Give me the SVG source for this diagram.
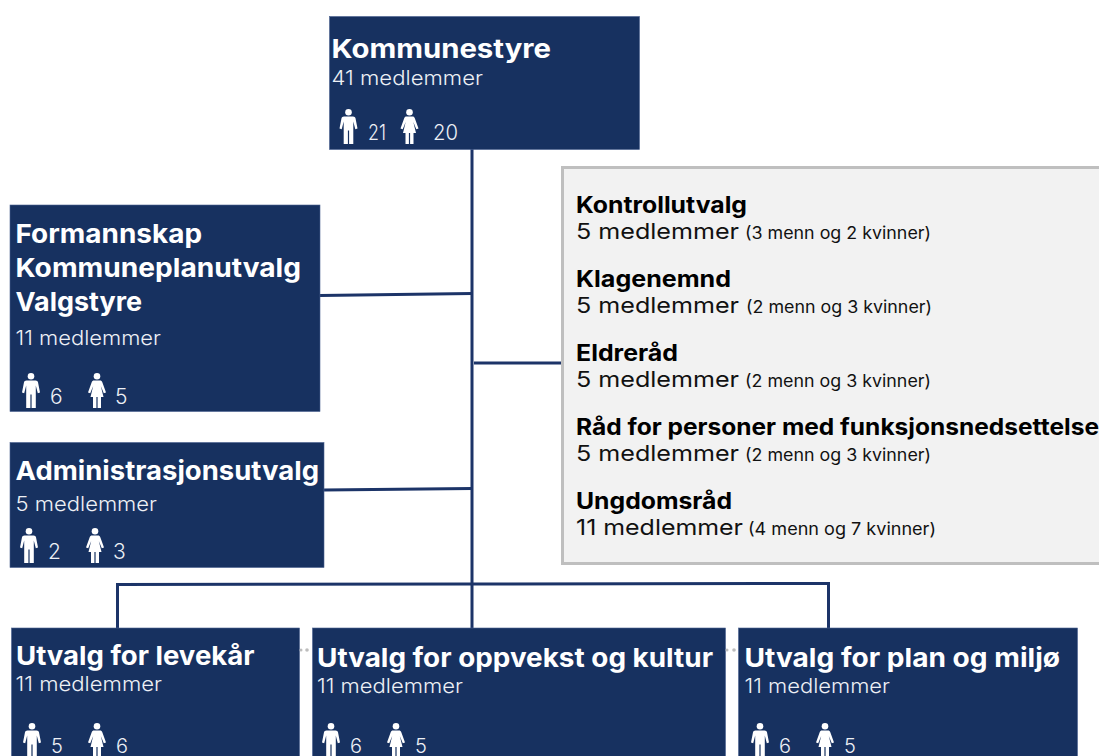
<svg xmlns="http://www.w3.org/2000/svg" width="1099" height="756" viewBox="0 0 1099 756">
<style>
text{font-family:"Inter","Noto Sans","Liberation Sans",sans-serif}
.box{fill:#173160;stroke:#4a6190;stroke-width:.6}
.t{fill:#fff;font-weight:700;font-size:26px}
.s{fill:#edf0f5;font-weight:300;font-size:20px}
.n{fill:#edf0f5;font-weight:300;font-size:21px}
.c{fill:none;stroke:#1c3468;stroke-width:3}
.h{fill:#000;font-weight:700;font-size:22.500px}
.m{fill:#111;font-size:22px;font-weight:400}
.p{fill:#111;font-size:17px;font-weight:400}
.d{fill:#bdbdbd}
</style>
<defs>
<g id="man" fill="#fff"><circle cx="9" cy="3.2" r="3.3"/><path d="M4.500 7.500H13.500C15 7.500 15.600 8.200 16 9.300L18 19.500 15.800 20.200 13.800 12.500V35H9.600V21.500H8.400V35H4.200V12.500L2.200 20.200 0 19.500 2 9.300C2.400 8.200 3 7.500 4.500 7.500Z"/></g>
<g id="woman" fill="#fff"><circle cx="9" cy="3.2" r="3.300"/><path d="M6 7.500H12C13.200 7.500 13.900 8.200 14.300 9.200L18 19.500 15.800 20.300 12.800 13 15.500 24H13V35H9.600V24H8.400V35H5V24H2.500L5.200 13 2.200 20.300 0 19.500 3.700 9.200C4.100 8.200 4.800 7.500 6 7.500Z"/></g>
</defs>
<g id="connectors">
<path class="c" d="M472 149V628"/>
<path class="c" d="M320 295.500L472 293.500"/>
<path class="c" d="M324 490L472 488.500"/>
<path class="c" d="M474 363H562"/>
<path class="c" d="M117.500 628V584.500L472 584L828.500 583.500V628"/>
</g>
<g id="kommunestyre">
<rect class="box" x="329.500" y="16.500" width="310" height="133"/>
<text class="t" x="331.500" y="58" textLength="219.500" lengthAdjust="spacingAndGlyphs">Kommunestyre</text>
<text class="s" x="331.500" y="85" textLength="151.500" lengthAdjust="spacingAndGlyphs">41 medlemmer</text>
<use href="#man" x="339.500" y="109"/><text class="n" x="368" y="140" textLength="18" lengthAdjust="spacingAndGlyphs">21</text>
<use href="#woman" x="400.500" y="109"/><text class="n" x="433" y="140" textLength="25" lengthAdjust="spacingAndGlyphs">20</text>
</g>
<g id="formannskap">
<rect class="box" x="10" y="205" width="310" height="206.500"/>
<text class="t" x="15.500" y="243" textLength="186.500" lengthAdjust="spacingAndGlyphs">Formannskap</text>
<text class="t" x="15.500" y="277" textLength="285.500" lengthAdjust="spacingAndGlyphs">Kommuneplanutvalg</text>
<text class="t" x="15.500" y="311" textLength="126.500" lengthAdjust="spacingAndGlyphs">Valgstyre</text>
<text class="s" x="15.500" y="345" textLength="145.500" lengthAdjust="spacingAndGlyphs">11 medlemmer</text>
<use href="#man" x="22" y="373"/><text class="n" x="50" y="404">6</text>
<use href="#woman" x="88" y="373"/><text class="n" x="115" y="404">5</text>
</g>
<g id="administrasjonsutvalg">
<rect class="box" x="10" y="442.500" width="314" height="125"/>
<text class="t" x="15.500" y="480" textLength="303.500" lengthAdjust="spacingAndGlyphs">Administrasjonsutvalg</text>
<text class="s" x="15.500" y="511" textLength="141.500" lengthAdjust="spacingAndGlyphs">5 medlemmer</text>
<use href="#man" x="20" y="528"/><text class="n" x="48" y="559">2</text>
<use href="#woman" x="86" y="528"/><text class="n" x="113" y="559">3</text>
</g>
<g id="radgivende">
<rect x="562.500" y="167.500" width="545" height="396" fill="#f2f2f2" stroke="#bfbfbf" stroke-width="3"/>
<text class="h" x="576" y="213" textLength="171" lengthAdjust="spacingAndGlyphs">Kontrollutvalg</text>
<text class="m" x="576" y="238.500" textLength="163" lengthAdjust="spacingAndGlyphs">5 medlemmer</text>
<text class="p" x="745" y="238.500" textLength="186" lengthAdjust="spacingAndGlyphs">(3 menn og 2 kvinner)</text>
<text class="h" x="576" y="287" textLength="155" lengthAdjust="spacingAndGlyphs">Klagenemnd</text>
<text class="m" x="576" y="313" textLength="163" lengthAdjust="spacingAndGlyphs">5 medlemmer</text>
<text class="p" x="746" y="313" textLength="186" lengthAdjust="spacingAndGlyphs">(2 menn og 3 kvinner)</text>
<text class="h" x="576" y="361" textLength="102" lengthAdjust="spacingAndGlyphs">Eldreråd</text>
<text class="m" x="576" y="387" textLength="163" lengthAdjust="spacingAndGlyphs">5 medlemmer</text>
<text class="p" x="745" y="387" textLength="186" lengthAdjust="spacingAndGlyphs">(2 menn og 3 kvinner)</text>
<text class="h" x="576" y="435" textLength="523" lengthAdjust="spacingAndGlyphs">Råd for personer med funksjonsnedsettelse</text>
<text class="m" x="576" y="461" textLength="163" lengthAdjust="spacingAndGlyphs">5 medlemmer</text>
<text class="p" x="745" y="461" textLength="186" lengthAdjust="spacingAndGlyphs">(2 menn og 3 kvinner)</text>
<text class="h" x="576" y="509" textLength="156" lengthAdjust="spacingAndGlyphs">Ungdomsråd</text>
<text class="m" x="576" y="535" textLength="167" lengthAdjust="spacingAndGlyphs">11 medlemmer</text>
<text class="p" x="748" y="535" textLength="188" lengthAdjust="spacingAndGlyphs">(4 menn og 7 kvinner)</text>
</g>
<g id="levekar">
<rect class="box" x="11.500" y="628" width="288" height="140"/>
<text class="t" x="16" y="665" textLength="238.500" lengthAdjust="spacingAndGlyphs">Utvalg for levekår</text>
<text class="s" x="15.500" y="691" textLength="146.500" lengthAdjust="spacingAndGlyphs">11 medlemmer</text>
<use href="#man" x="23" y="723"/><text class="n" x="51" y="752.500" style="font-size:20px">5</text>
<use href="#woman" x="88" y="723"/><text class="n" x="116" y="752.500" style="font-size:20px">6</text>
</g>
<g id="oppvekst">
<rect class="box" x="312.500" y="628" width="413" height="140"/>
<text class="t" x="317" y="667" textLength="396" lengthAdjust="spacingAndGlyphs">Utvalg for oppvekst og kultur</text>
<text class="s" x="317" y="693" textLength="146" lengthAdjust="spacingAndGlyphs">11 medlemmer</text>
<use href="#man" x="322" y="723"/><text class="n" x="350" y="752.500" style="font-size:20px">6</text>
<use href="#woman" x="387" y="723"/><text class="n" x="415" y="752.500" style="font-size:20px">5</text>
</g>
<g id="plan">
<rect class="box" x="738.500" y="628" width="339" height="140"/>
<text class="t" x="744.500" y="667" textLength="315.500" lengthAdjust="spacingAndGlyphs">Utvalg for plan og miljø</text>
<text class="s" x="744.500" y="692.500" textLength="145.500" lengthAdjust="spacingAndGlyphs">11 medlemmer</text>
<use href="#man" x="751" y="723"/><text class="n" x="779" y="752.500" style="font-size:20px">6</text>
<use href="#woman" x="816" y="723"/><text class="n" x="844" y="752.500" style="font-size:20px">5</text>
</g>
<g id="dots">
<circle class="d" cx="301" cy="650" r="1.500"/><circle class="d" cx="307" cy="650" r="1.800"/>
<circle class="d" cx="727" cy="650" r="1.500"/><circle class="d" cx="734" cy="650" r="1.800"/>
</g>
</svg>
